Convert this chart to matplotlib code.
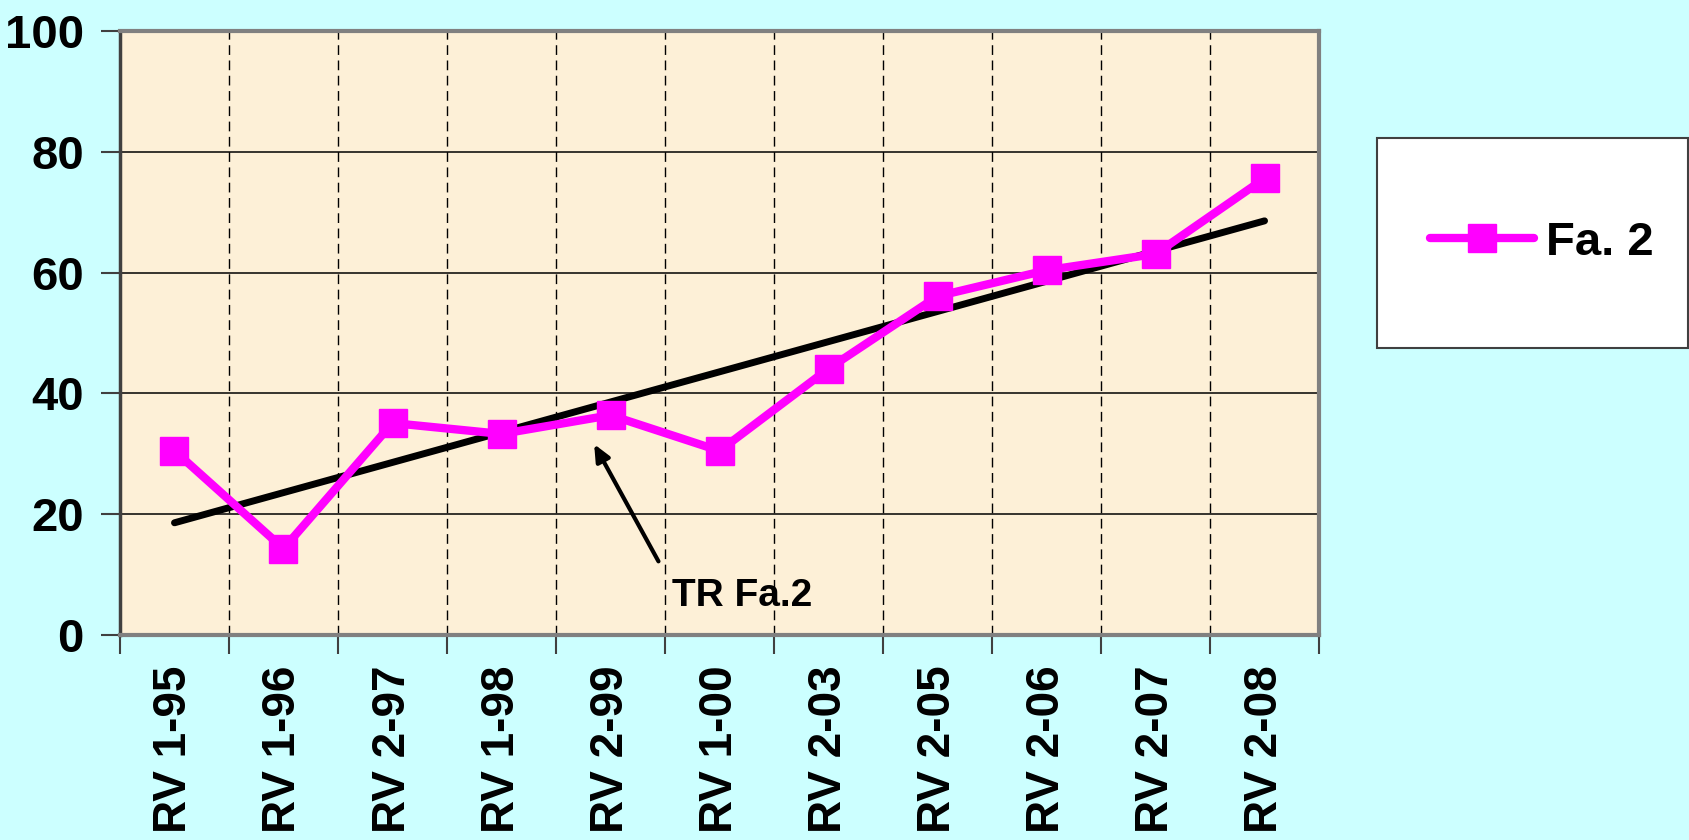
import numpy as np
import matplotlib
matplotlib.use("Agg")
import matplotlib.pyplot as plt
from matplotlib.patches import Rectangle

# data
labels = ["RV 1-95", "RV 1-96", "RV 2-97", "RV 1-98", "RV 2-99", "RV 1-00",
          "RV 2-03", "RV 2-05", "RV 2-06", "RV 2-07", "RV 2-08"]
fa2 = [30.5, 14.3, 35.1, 33.3, 36.4, 30.5, 44.1, 56.1, 60.4, 63.1, 75.6]
yticks = [0, 20, 40, 60, 80, 100]

plt.rcParams['font.family'] = ['Liberation Sans', 'DejaVu Sans']
plt.rcParams['font.weight'] = 'bold'

fig = plt.figure(figsize=(16.9, 8.4), dpi=100, facecolor='#CCFFFF')
ax = fig.add_axes([0.0710, 0.2440, 0.7095, 0.7190])
ax.set_facecolor('#FDF0D7')

x = np.arange(len(labels))

# trend line (linear fit)
k, b = np.polyfit(x, fa2, 1)
ax.plot(x, k * x + b, color='black', lw=5, solid_capstyle='round', zorder=3)

ax.plot(x, fa2, color='#FF00FF', lw=6, marker='s', markersize=20,
        markeredgecolor='#FF00FF', label='Fa. 2', zorder=4,
        solid_capstyle='round')

ax.set_xlim(-0.5, len(labels) - 0.5)
ax.set_ylim(0, 100)

# grid
for yy in yticks[1:-1]:
    ax.axhline(yy, color='black', lw=1.1, zorder=1)
for xx in np.arange(0.5, len(labels) - 1, 1.0):
    ax.axvline(xx, color='black', lw=1, linestyle=(0, (7, 4)), zorder=1)

ax.set_yticks(yticks)
ax.set_yticklabels([str(v) for v in yticks], fontsize=34, fontweight='bold')
ax.tick_params(axis='y', length=14, width=1.5, pad=12, color='#404040')

ax.set_xticks(np.arange(-0.5, len(labels), 1.0))
ax.set_xticklabels([])
ax.set_xticks(x, minor=True)
ax.set_xticklabels(labels, minor=True, rotation=90, fontsize=33,
                   fontweight='bold', va='top')
ax.tick_params(axis='x', which='major', length=14, width=1.5, color='#404040')
ax.tick_params(axis='x', which='minor', length=0, pad=22)

for side in ['top', 'right', 'bottom']:
    ax.spines[side].set_color('#808080')
    ax.spines[side].set_linewidth(3)
ax.spines['left'].set_color('#404040')
ax.spines['left'].set_linewidth(2.5)

# annotation
ax.annotate('', xy=(3.85, 31.6), xytext=(4.44, 12.2),
            arrowprops=dict(arrowstyle='-|>,head_length=1.0,head_width=0.45',
                            color='black', lw=3, shrinkA=0, shrinkB=0))
ax.text(4.56, 4.8, 'TR Fa.2', fontsize=28, fontweight='bold', ha='left',
        va='baseline')

# legend box
fig.patches.append(Rectangle((0.8148, 0.5857), 0.184, 0.25,
                             transform=fig.transFigure, facecolor='white',
                             edgecolor='#404040', lw=1.5))
leg = fig.legend(loc='center left', bbox_to_anchor=(0.835, 0.7107),
                 frameon=False, fontsize=34, handlelength=2.2,
                 handletextpad=0.25, borderaxespad=0)
for t in leg.get_texts():
    t.set_fontweight('bold')

fig.savefig('out.png', dpi=100, facecolor=fig.get_facecolor())
